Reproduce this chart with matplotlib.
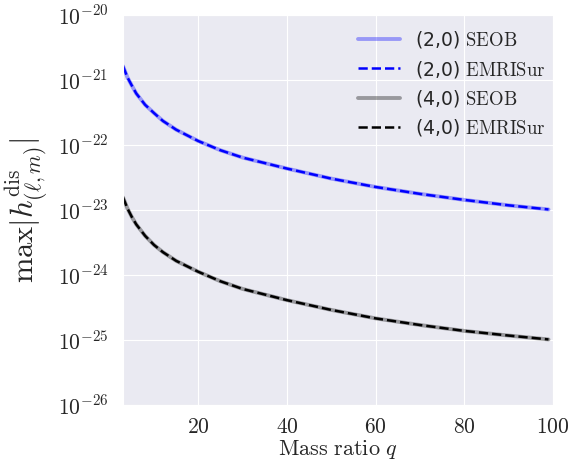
import numpy as np
import matplotlib
matplotlib.use("Agg")
import matplotlib.pyplot as plt
import seaborn as sns

sns.set_style("darkgrid")
plt.rcParams["mathtext.fontset"] = "cm"
plt.rcParams["font.family"] = ["DejaVu Sans"]

# mass ratios and peak amplitudes of the memory modes
q = [3, 4, 5, 6, 8, 10, 12, 15, 20, 25, 30, 40, 50, 60, 70, 80, 90, 99]
h20_seob = [1.64e-21, 1.10e-21, 8.2e-22, 6.2e-22, 4.15e-22, 3.1e-22, 2.35e-22, 1.72e-22,
            1.15e-22, 8.3e-23, 6.4e-23, 4.34e-23, 3.04e-23, 2.26e-23, 1.77e-23, 1.43e-23,
            1.18e-23, 1.02e-23]
h20_emri = h20_seob
h40_seob = [1.57e-23, 1.06e-23, 7.8e-24, 6.0e-24, 4.0e-24, 2.9e-24, 2.25e-24, 1.65e-24,
            1.12e-24, 8.0e-25, 6.1e-25, 4.1e-25, 2.9e-25, 2.15e-25, 1.7e-25, 1.38e-25,
            1.17e-25, 1.02e-25]
h40_emri = h40_seob

fig = plt.figure(figsize=(5.87, 4.62), dpi=100)
ax = fig.add_axes([0.2095, 0.1234, 0.7325, 0.8441])

ax.semilogy(q, h20_seob, color="blue", alpha=0.35, lw=2.8, label=r"(2,0) $\mathrm{SEOB}$")
ax.semilogy(q, h20_emri, color="blue", ls="--", lw=1.8, label=r"(2,0) $\mathrm{EMRISur}$")
ax.semilogy(q, h40_seob, color="black", alpha=0.35, lw=2.8, label=r"(4,0) $\mathrm{SEOB}$")
ax.semilogy(q, h40_emri, color="black", ls="--", lw=1.8, label=r"(4,0) $\mathrm{EMRISur}$")

ax.set_xlim(3, 100)
ax.set_ylim(1e-26, 1e-20)
ax.set_xticks([20, 40, 60, 80, 100])
ax.set_xticklabels([r"$20$", r"$40$", r"$60$", r"$80$", r"$100$"])
ax.set_yticks([10.0**k for k in range(-26, -19)])
ax.set_yticklabels([r"$10^{%d}$" % k for k in range(-26, -19)])
ax.yaxis.set_minor_locator(matplotlib.ticker.NullLocator())
ax.tick_params(labelsize=15.5, pad=7)
ax.tick_params(axis="x", pad=5)

ax.set_xlabel(r"$\mathrm{Mass\ ratio}\ q$", fontsize=16, labelpad=1)
ax.set_ylabel(r"$\max|h^{\rm dis}_{(\ell,m)}|$", fontsize=22, labelpad=6)

ax.legend(loc="upper right", fontsize=13.5, frameon=False, handlelength=2.2,
          labelspacing=0.45, bbox_to_anchor=(1.015, 1.0), borderaxespad=0.35)

fig.savefig("out.png", dpi=100)
